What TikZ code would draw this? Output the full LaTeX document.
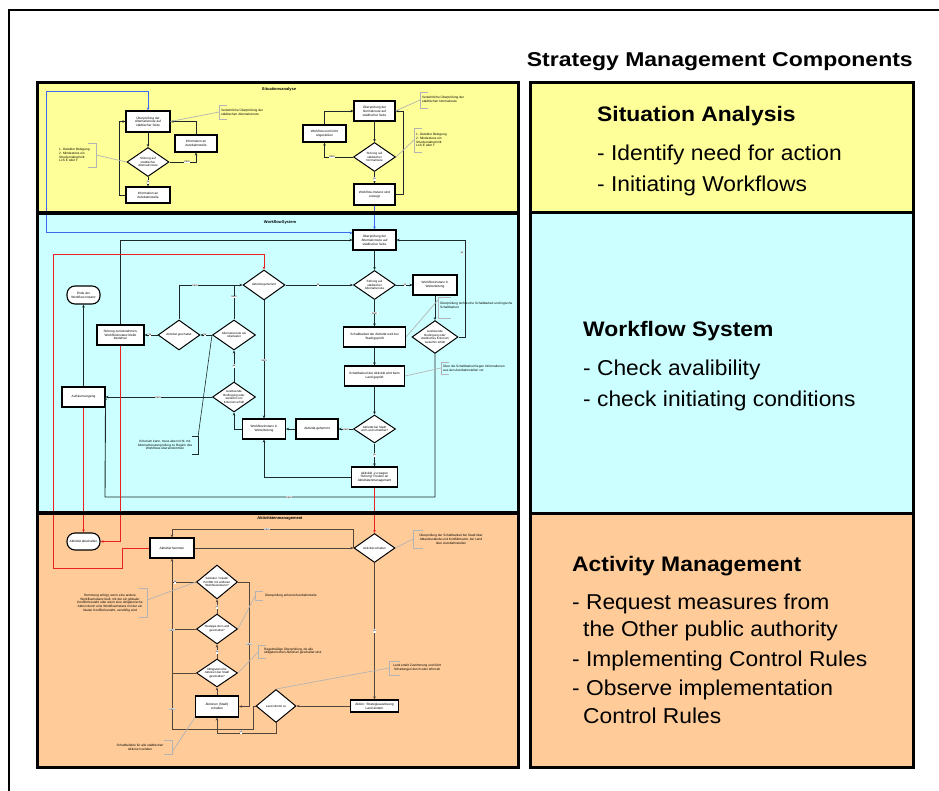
\documentclass[tikz,border=0pt]{standalone}
\usepackage{fontspec}
\setmainfont{Liberation Sans}
\usetikzlibrary{shapes.geometric,arrows.meta}

\definecolor{ylw}{HTML}{FFFF99}
\definecolor{cyn}{HTML}{CCFFFF}
\definecolor{org}{HTML}{FFCC99}
\definecolor{flow}{HTML}{1E2A2A}
\definecolor{brn}{HTML}{54463A}
\definecolor{note}{HTML}{B4B4B4}
\definecolor{blu}{HTML}{3D6BF0}
\definecolor{rd}{HTML}{E8231E}

% horizontal stretch of a text run
\newcommand\hstretchtxt[2]{\scalebox{#1}[1]{#2}}

\tikzset{
  smalltxt/.style={font=\fontsize{3.2}{3.8}\selectfont},
  procbox/.style={draw=black, fill=white, line width=1.1pt, align=center,
    inner sep=0.5pt, smalltxt},
  decide/.style={diamond, aspect=1.4, draw=black, fill=white, line width=1pt,
    align=center, inner sep=0pt, font=\fontsize{3}{3.6}\selectfont},
  term/.style={draw=black, fill=white, line width=1.1pt, rounded corners=8pt,
    align=center, inner sep=0.5pt, smalltxt},
  lbl/.style={fill=white, inner sep=0.4pt, font=\fontsize{2.8}{3}\selectfont},
  arr/.style={-{Stealth[length=3pt,width=2.6pt]}},
  flowln/.style={draw=flow, line width=0.9pt},
  brnln/.style={draw=brn, line width=0.9pt},
  redln/.style={draw=rd, line width=1pt},
  bluln/.style={draw=blu, line width=1pt},
  noteln/.style={draw=note, line width=0.7pt},
  notetxt/.style={smalltxt, inner sep=0},
  sectitle/.style={font=\bfseries\fontsize{4}{4.5}\selectfont},
  heading/.style={anchor=base west, inner sep=0pt, font=\bfseries\fontsize{21}{25}\selectfont},
  bullet/.style={anchor=base west, inner sep=0pt, font=\fontsize{21.5}{25}\selectfont},
}

\begin{document}
\begin{tikzpicture}[x=1pt,y=-1pt]
\useasboundingbox (0,0) rectangle (939,791);

% outer frame of the page
\draw[line width=1.8pt] (9,795) -- (9,10) -- (945,10);

% heading
\node[anchor=base east, inner sep=0pt, font=\bfseries\fontsize{20}{24}\selectfont] (title)
  at (913,67) {\hstretchtxt{1.15}{Strategy Management Components}};

% ---------- left panel: three bands ----------
\fill[ylw] (37,83) rectangle (518,213);
\fill[cyn] (37,213) rectangle (518,513);
\fill[org] (37,513) rectangle (518,767);

% ---------- right panel: three bands ----------
\fill[ylw] (530,83) rectangle (913,213);
\fill[cyn] (530,213) rectangle (913,513);
\fill[org] (530,513) rectangle (913,767);
\draw[line width=3pt] (530,213) -- (913,213) (530,513) -- (913,513);
\draw[line width=3pt] (530,83) rectangle (913,767);

% section titles
\node[sectitle] (t1) at (279,89) {Situationsanalyse};
\node[sectitle] (t2) at (280,222) {WorkflowSystem};
\node[sectitle] (t3) at (280,518) {Aktivitätenmanagement};

% =================== Situationsanalyse ===================
\node[procbox, minimum width=44pt, minimum height=21pt] (A1) at (148,121.5)
  {Überprüfung der\\Alternativroute auf\\städtischer Seite};
\node[decide, minimum width=42pt, minimum height=29pt] (D1) at (148,162)
  {Störung auf\\städtischer\\Alternativroute};
\node[procbox, minimum width=42pt, minimum height=17pt] (A2) at (196,143.5)
  {Information an\\Autobahnstelle};
\node[procbox, minimum width=44pt, minimum height=16pt] (A3) at (148,195)
  {Information an\\Autobahnstelle};

\node[procbox, minimum width=41pt, minimum height=20pt] (B1) at (374.5,111)
  {Überprüfung der\\Normalroute auf\\städtischer Seite};
\node[procbox, minimum width=43pt, minimum height=17pt] (B2) at (324.5,133.5)
  {Workflow wird nicht\\angestoßen};
\node[decide, minimum width=42pt, minimum height=29pt] (D2) at (374.5,157)
  {Störung auf\\städtischer\\Normalroute};
\node[procbox, minimum width=41pt, minimum height=21pt] (B3) at (374.5,194.5)
  {Workflow-Instanz wird\\erzeugt};

\draw[flowln, arr] (A1.south) -- (D1.north);
\draw[flowln, arr] (D1.east) -| (A2.south);
\draw[flowln, arr] (A2.north) |- (A1.east);
\draw[flowln, arr] (D1.south) -- (A3.north);
\draw[flowln, arr] (A3.west) -- ++(-6,0) |- (A1.west);

\draw[flowln, arr] (B1.south) -- (D2.north);
\draw[flowln, arr] (D2.west) -| (B2.south);
\draw[flowln, arr] (B2.north) |- (B1.west);
\draw[flowln, arr] (D2.south) -- (B3.north);
\draw[flowln, arr] (B3.east) -- ++(8,0) |- (B1.east);

\node[lbl] (y1) at (187,162) {nein};
\node[lbl] (y2) at (148,182) {ja};
\node[lbl] (y3) at (332,157) {nein};
\node[lbl] (y4) at (374.5,179) {ja};

% notes
\draw[noteln] (227,105) -- (219,105) -- (219,119) -- (227,119);
\node[notetxt, anchor=west, align=left] (n1) at (221,112)
  {Verkehrliche Überprüfung der\\städtischen Alternativroute};
\draw[noteln] (219,112) -- (A1.east);

\draw[noteln] (88,143) -- (96,143) -- (96,167) -- (88,167);
\node[notetxt, anchor=west, align=left] (n2) at (59,155)
  {1. Detektor Belegung\\2. Mindestens ein\\Streckenabschnitt\\LoS E oder F};
\draw[noteln] (96,155) -- (D1.west);

\draw[noteln] (428,92) -- (420,92) -- (420,108) -- (428,108);
\node[notetxt, anchor=west, align=left] (n3) at (422,99)
  {Verkehrliche Überprüfung der\\städtischen Normalroute};
\draw[noteln] (420,100) -- (B1.east);

\draw[noteln] (422,128) -- (414,128) -- (414,152) -- (422,152);
\node[notetxt, anchor=west, align=left] (n4) at (416,140)
  {1. Detektor Belegung\\2. Mindestens ein\\Streckenabschnitt\\LoS E oder F};
\draw[noteln] (414,140) -- (D2.east);

% =================== WorkflowSystem ===================
\node[procbox, minimum width=43pt, minimum height=20pt] (W1) at (374.5,240)
  {Überprüfung der\\Alternativroute auf\\städtischer Seite};
\node[decide, minimum width=42pt, minimum height=29pt] (WD1) at (374.5,285)
  {Störung auf\\städtischer\\Alternativroute};
\node[procbox, minimum width=44pt, minimum height=20pt] (WB1) at (435,285)
  {Workflowinstanz in\\Weiterleitung};
\node[procbox, minimum width=62pt, minimum height=20pt] (WB2) at (374.5,337)
  {Schaltbarkeit der Aktivität wird bei\\Stadt geprüft};
\node[decide, minimum width=42pt, minimum height=28pt] (WD2) at (435,337)
  {Auslösende\\Bedingung oder\\städtisches Kriterium\\weiterhin erfüllt};
\node[procbox, minimum width=60pt, minimum height=20pt] (WB3) at (374.5,376)
  {Schaltbarkeit der Aktivität wird beim\\Land geprüft};
\node[decide, minimum width=42pt, minimum height=28pt] (WD3) at (374.5,429)
  {Aktivität bei Stadt\\und Land schaltbar?};
\node[procbox, minimum width=42pt, minimum height=20pt] (WB4) at (317,429)
  {Aktivität gehemmt};
\node[procbox, minimum width=43pt, minimum height=20pt] (WB5) at (264,429)
  {Workflowinstanz in\\Weiterleitung};
\node[procbox, minimum width=46pt, minimum height=20pt] (WB6) at (374.5,477)
  {Aktivität „zu wegen\\Störung“ Routen an\\Aktivitätenmanagement};

\node[decide, minimum width=42pt, minimum height=30pt] (LD1) at (264,285)
  {Aktivität gehemmt};
\node[decide, minimum width=42pt, minimum height=30pt] (LD2) at (179,335)
  {Aktivität geschaltet};
\node[decide, minimum width=43pt, minimum height=30pt] (LD3) at (234,335)
  {Alternativroute als\\überlastet};
\node[decide, minimum width=43pt, minimum height=30pt] (LD4) at (234,397)
  {Auslösende\\Bedingung oder\\weiterhin ein\\Kriterium erfüllt};
\node[procbox, minimum width=47pt, minimum height=20pt] (LB1) at (120.5,335)
  {Störung zurücknehmen,\\Workflowinstanz bleibt\\bestehen};
\node[term, minimum width=33pt, minimum height=18pt] (LT1) at (83.5,295)
  {Ende der\\Workflow-Instanz};
\node[procbox, minimum width=43pt, minimum height=20pt] (LB2) at (83.5,397)
  {Aufräumvorgang};

\draw[flowln, arr] (W1.south) -- (WD1.north);
\draw[flowln, arr] (WD1.east) -- (WB1.west);
\draw[flowln, arr] (WD1.south) -- (WB2.north);
\draw[flowln, arr] (WB1.south) -- (WD2.north);
\draw[flowln, arr] (WD2.east) -- ++(7,0) |- (W1.east);
\draw[flowln, arr] (WD2.south) -- (435,497) -- (105,497) -- (LB2.east);
\draw[flowln, arr] (WB2.south) -- (WB3.north);
\draw[flowln, arr] (WB3.south) -- (WD3.north);
\draw[flowln, arr] (WD3.west) -- (WB4.east);
\draw[flowln, arr] (WB4.west) -- (WB5.east);
\draw[flowln, arr] (WD3.south) -- (WB6.north);
\draw[flowln, arr] (WB6.west) -| (WB5.south);
\draw[flowln, arr] (WB5.west) -| (LD4.south);

\draw[flowln, arr] (LD1.east) -- (WD1.west);
\draw[flowln, arr] (LD1.south) -- (LD1.south |- WB5.north);
\draw[flowln, arr] (LD2.north) |- (LD1.west);
\draw[flowln] (LD3.north) -- (LD3.north |- LD1.west);
\draw[flowln, arr] (LD3.west) -- (LD2.east);
\draw[flowln, arr] (LD2.west) -- (LB1.east);
\draw[flowln, arr] (LB1.north) |- (W1.west);
\draw[flowln, arr] (LB2.north) -- (LT1.south);
\draw[flowln, arr] (LD4.north) -- (LD3.south);
\draw[flowln, arr] (LD4.west) -- (LB2.east);

\node[lbl] (c1) at (405,285) {ja};
\node[lbl] (c2) at (374.5,313) {nein};
\node[lbl] (c3) at (462,253) {ja};
\node[lbl] (c4) at (318,285) {ja};
\node[lbl] (c5) at (264,360) {nein};
\node[lbl] (c6) at (195,285) {nein};
\node[lbl] (c7) at (234,297) {nein};
\node[lbl] (c8) at (205,335) {ja};
\node[lbl] (c9) at (150,335) {ja};
\node[lbl] (c10) at (234,366) {ja};
\node[lbl] (c11) at (158,397) {nein};
\node[lbl] (c12) at (346,429) {nein};
\node[lbl] (c13) at (374.5,455) {ja};
\node[lbl] (c14) at (289,497) {nein};

% notes
\draw[noteln] (451,297) -- (438,297) -- (438,318) -- (451,318);
\node[notetxt, anchor=west, align=left] (n5) at (440,305)
  {Überprüfung technische Schaltbarkeit und logische\\Schaltbarkeit};
\draw[noteln] (438,300) -- (WB2.east);

\draw[noteln] (449,362) -- (441,362) -- (441,374) -- (449,374);
\node[notetxt, anchor=west, align=left] (n6) at (443,368)
  {Über die Schaltbarkeit liegen Informationen\\aus den Autobahnstellen vor};
\draw[noteln] (441,368) -- (WB3.east);

\draw[flowln, line width=0.6pt] (192,436) -- (198,436) -- (198,454) -- (192,454);
\node[notetxt, align=center] (n7) at (165,445)
  {Kriterium kann, muss aber nicht, mit\\Alternativroutenprüfung zu Beginn des\\Workflows übereinstimmen};
\draw[flowln, line width=0.6pt] (198,437) -- (LD3.west);

% blue start lines
\coordinate (bstart) at (46,92);
\coordinate (W1in) at ([yshift=7pt]W1.west);
\draw[bluln, arr] (bstart) -| (A1.north);
\draw[bluln, arr] (bstart) |- (W1in);
\draw[bluln, arr] (B3.south) -- (W1.north);

% =================== Aktivitaetenmanagement ===================
\node[term, minimum width=33pt, minimum height=17pt] (AT1) at (83.5,541.5)
  {Aktivität abschalten};
\node[procbox, minimum width=44pt, minimum height=20pt] (AB1) at (172,548)
  {Aktivität hemmen};
\node[decide, minimum width=41pt, minimum height=29pt] (AD1) at (374.5,548)
  {Aktivität schalten};
\node[procbox, minimum width=48pt, minimum height=12pt] (AB2) at (374.5,706)
  {Aktion: Strategieauslösung\\Land ändern};
\node[decide, minimum width=40pt, minimum height=33pt] (AD5) at (276,706)
  {Land stimmt zu};
\node[decide, minimum width=41pt, minimum height=34pt] (O1) at (217,582)
  {Globaler / lokaler\\Konflikt mit anderen\\Workflowinstanz?};
\node[decide, minimum width=41pt, minimum height=30pt] (O2) at (217,629)
  {Strategie der Land\\geschaltet?};
\node[decide, minimum width=41pt, minimum height=28pt] (O3) at (217,673)
  {Obligatorische\\Aktionen bei Stadt\\geschaltet?};
\node[procbox, minimum width=43pt, minimum height=21pt] (AB3) at (217,706.5)
  {Aktionen (Stadt)\\schalten};

\draw[brnln, arr] (AB1.east) -- (AD1.west);
\draw[brnln, arr] (AD1.west) -- ++(0,-19) -| (AB1.north);
\draw[brnln, arr] (AD1.south) -- (AB2.north);
\draw[brnln, arr] (AB2.west) -- (AD5.east);
\draw[brnln, arr] (AD5.south) -- ++(0,10) -| (AB3.south);
\draw[brnln, arr] (AD5.west) -- ++(-2,0) -- ++(0,23) -| (AB1.south);
\draw[brnln] (O1.west) -- (O1.west -| AB1.south);
\draw[brnln] (O2.west) -- (O2.west -| AB1.south);
\draw[brnln] (O3.west) -- (O3.west -| AB1.south);
\draw[brnln, arr] (AB3.north) -- (O3.south);
\draw[brnln, arr] (O3.north) -- (O2.south);
\draw[brnln, arr] (O2.north) -- (O1.south);
\draw[brnln, arr] (O1.east) -- ++(11,0) |- (AB3.east);

\node[lbl] (o1) at (267,529) {nein};
\node[lbl] (o2) at (374.5,631) {ja};
\node[lbl] (o3) at (241,732) {ja};
\node[lbl] (o4) at (175,582) {ja};
\node[lbl] (o5) at (172,630) {nein};
\node[lbl] (o6) at (172,709) {nein};
\node[lbl] (o7) at (217,652) {ja};
\node[lbl] (o8) at (217,607) {ja};
\node[lbl] (o9) at (249,644) {nein};

% notes
\draw[noteln] (423,530) -- (413,530) -- (413,548) -- (423,548);
\node[notetxt, align=center] (n8) at (451,539)
  {Überprüfung der Schaltbarkeit bei Stadt über\\Ablaufzustände und Konfliktmatrix, bei Land\\über Autobahnstellen};
\draw[noteln] (413,539) -- (AD1.east);

\draw[noteln] (139,588) -- (147,588) -- (147,617) -- (139,617);
\node[notetxt, align=center] (n9) at (110,603)
  {Hemmung erfolgt, wenn eine andere\\Workflowinstanz läuft, mit der ein globaler\\Konflikt besteht oder wenn eine obligatorische\\Aktion durch eine Workflowinstanz mit der ein\\lokaler Konflikt besteht, verstößig wird};
\draw[noteln] (147,600) -- (O1.west);

\draw[noteln] (263,591) -- (255,591) -- (255,600) -- (263,600);
\node[notetxt, anchor=west] (n10) at (265,595)
  {Überprüfung anhand Autobahnstelle};
\draw[noteln] (255,596) -- (O2.east);

\draw[noteln] (266,645) -- (258,645) -- (258,658) -- (266,658);
\node[notetxt, anchor=west, align=left] (n11) at (264,651)
  {Regelmäßige Überprüfung, ob alle\\obligatorischen Aktionen geschaltet sind};
\draw[noteln] (258,652) -- (O3.east);

\draw[noteln] (164,740) -- (172,740) -- (172,754) -- (164,754);
\node[notetxt, align=center] (n12) at (140,747)
  {Schaltbefehle für alle städtischen\\Aktionen senden};
\draw[noteln] (172,752) -- (AB3.south west);

\draw[noteln] (400,661) -- (389,661) -- (389,675) -- (400,675);
\node[notetxt, anchor=west, align=center] (n13) at (393,668)
  {Land erteilt Zustimmung und führt\\Schaltungen durch oder lehnt ab};
\draw[noteln] (389,668) -- (AD5.north);

% red paths
\draw[redln, arr] (AB1.west) -- ++(-27,0) -- ++(0,20) -- (53,568) -- (53,255) -| (LD1.north);
\draw[redln, arr] (LB2.south) -- (AT1.north);
\draw[redln, arr] (LB1.south) |- (AT1.east);
\draw[redln, arr] (WB6.south) -- (AD1.north);

% left panel separators and border
\draw[line width=4pt] (37,213) -- (518,213) (37,513) -- (518,513);
\draw[line width=3pt] (37,83) rectangle (518,767);

% ---------- right panel text ----------
\node[heading] (h1) at (597,122) {\hstretchtxt{1.09}{Situation Analysis}};
\node[bullet] (s1) at (597,161) {\hstretchtxt{1.06}{- Identify need for action}};
\node[bullet] (s2) at (597,192) {\hstretchtxt{1.06}{- Initiating Workflows}};

\node[heading] (h2) at (583,337) {\hstretchtxt{1.09}{Workflow System}};
\node[bullet] (w1) at (583,375) {\hstretchtxt{1.06}{- Check avalibility}};
\node[bullet] (w2) at (583,406) {\hstretchtxt{1.06}{- check initiating conditions}};

\node[heading] (h3) at (572,571) {\hstretchtxt{1.09}{Activity Management}};
\node[bullet] (m1) at (572,609) {\hstretchtxt{1.06}{- Request measures from}};
\node[bullet] (m2) at (583,636) {\hstretchtxt{1.06}{the Other public authority}};
\node[bullet] (m3) at (572,666) {\hstretchtxt{1.06}{- Implementing Control Rules}};
\node[bullet] (m4) at (572,695) {\hstretchtxt{1.06}{- Observe implementation}};
\node[bullet] (m5) at (583,723) {\hstretchtxt{1.06}{Control Rules}};
\end{tikzpicture}
\end{document}
